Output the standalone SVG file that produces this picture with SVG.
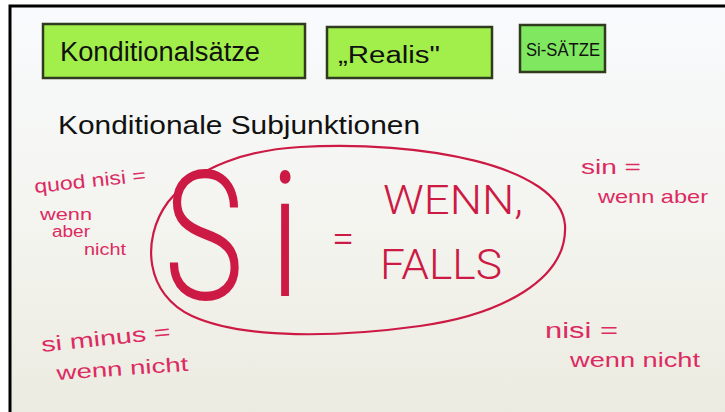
<svg xmlns="http://www.w3.org/2000/svg" width="725" height="412" viewBox="0 0 725 412">
  <defs>
    <linearGradient id="board" x1="0" y1="0" x2="0" y2="1">
      <stop offset="0" stop-color="#f8fafd"/>
      <stop offset="0.5" stop-color="#f4f5f0"/>
      <stop offset="1" stop-color="#ecebe1"/>
    </linearGradient>
    <style>
      .box { stroke: #2f3a1f; stroke-width: 2.5; }
      .blk { font-family: "Liberation Sans", "DejaVu Sans", sans-serif; fill: #111; }
      .red { font-family: "Liberation Sans", "DejaVu Sans", sans-serif; fill: #dc2a62; }
      .big { font-family: Roboto, "Liberation Sans", sans-serif; font-weight: 300; fill: #cc1a45; }
    </style>
  </defs>
  <rect x="0" y="0" width="725" height="412" fill="#ffffff"/>
  <rect x="10" y="6" width="715" height="406" fill="url(#board)"/>
  <path d="M10,412 V6 H725" fill="none" stroke="#000" stroke-width="3"/>

  <g id="box-konditionalsaetze">
    <rect class="box" x="43" y="24" width="262" height="54" fill="#a2ef4c"/>
    <text class="blk" x="60" y="61" font-size="27" textLength="200" lengthAdjust="spacingAndGlyphs">Konditionalsätze</text>
  </g>
  <g id="box-realis">
    <rect class="box" x="327" y="27" width="165" height="51" fill="#a2ef4c"/>
    <text class="blk" x="338" y="63" font-size="23" textLength="102" lengthAdjust="spacingAndGlyphs">„Realis"</text>
  </g>
  <g id="box-si-saetze">
    <rect class="box" x="520" y="25" width="85" height="47" fill="#7fe860"/>
    <text class="blk" x="526" y="56" font-size="19" textLength="74" lengthAdjust="spacingAndGlyphs">Si-SÄTZE</text>
  </g>

  <text class="blk" x="58" y="134" font-size="26" textLength="362" lengthAdjust="spacingAndGlyphs">Konditionale Subjunktionen</text>

  <g id="si-main">
    <path d="M300,147 C420,140 560,165 565,225 C568,280 500,315 420,326 C340,337 245,340 192,316 C146,295 140,240 168,202 C198,165 250,150 300,147 Z" fill="none" stroke="#cc1a45" stroke-width="2.2"/>
    <text class="big" x="164" y="299" font-size="180" textLength="80" lengthAdjust="spacingAndGlyphs">S</text>
    <text class="big" x="270" y="296" font-size="175" textLength="30" lengthAdjust="spacingAndGlyphs">i</text>
    <text class="big" x="332" y="252" font-size="40">=</text>
    <text class="big" x="383" y="214" font-size="40" textLength="140" lengthAdjust="spacingAndGlyphs">WENN,</text>
    <text class="big" x="380" y="279" font-size="42" textLength="122" lengthAdjust="spacingAndGlyphs">FALLS</text>
  </g>

  <g id="quod-nisi">
    <text class="red" x="35" y="193" font-size="19" textLength="112" lengthAdjust="spacingAndGlyphs" transform="rotate(-6 35 193)">quod nisi =</text>
    <text class="red" x="40" y="220" font-size="17" textLength="52" lengthAdjust="spacingAndGlyphs">wenn</text>
    <text class="red" x="52" y="237" font-size="16" textLength="38" lengthAdjust="spacingAndGlyphs">aber</text>
    <text class="red" x="84" y="255" font-size="17" textLength="42" lengthAdjust="spacingAndGlyphs">nicht</text>
  </g>
  <g id="sin">
    <text class="red" x="581" y="174" font-size="21" textLength="60" lengthAdjust="spacingAndGlyphs">sin =</text>
    <text class="red" x="598" y="203" font-size="19" textLength="110" lengthAdjust="spacingAndGlyphs">wenn aber</text>
  </g>
  <g id="si-minus">
    <text class="red" x="42" y="352" font-size="21" textLength="130" lengthAdjust="spacingAndGlyphs" transform="rotate(-6 42 352)">si minus =</text>
    <text class="red" x="57" y="380" font-size="20" textLength="132" lengthAdjust="spacingAndGlyphs" transform="rotate(-4 57 380)">wenn nicht</text>
  </g>
  <g id="nisi">
    <text class="red" x="545" y="338" font-size="22" textLength="73" lengthAdjust="spacingAndGlyphs">nisi =</text>
    <text class="red" x="570" y="367" font-size="20" textLength="130" lengthAdjust="spacingAndGlyphs">wenn nicht</text>
  </g>
</svg>
